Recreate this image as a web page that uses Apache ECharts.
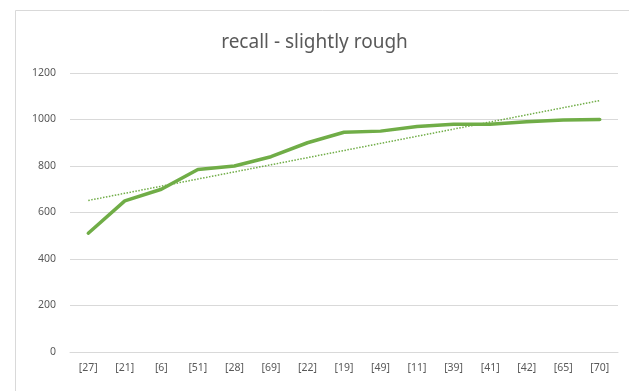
<!DOCTYPE html>
<html>
<head>
<meta charset="utf-8">
<script src="https://cdn.jsdelivr.net/npm/echarts@6/dist/echarts.min.js"></script>
<style>
  html, body { margin: 0; padding: 0; background: #fff; }
  #chart { width: 629px; height: 391px; }
</style>
</head>
<body>
<div id="chart"></div>
<script>
// Recall per sample id, ordered ascending
const categories = ['[27]', '[21]', '[6]', '[51]', '[28]', '[69]', '[22]', '[19]', '[49]', '[11]', '[39]', '[41]', '[42]', '[65]', '[70]'];
const recall = [511, 650, 700, 785, 800, 840, 900, 945, 950, 970, 980, 980, 990, 998, 1000];
const yTicks = [0, 200, 400, 600, 800, 1000, 1200];

// Least-squares linear trend over the category index
function linearTrend(values) {
  const n = values.length;
  let sx = 0, sy = 0, sxx = 0, sxy = 0;
  values.forEach((v, i) => { sx += i; sy += v; sxx += i * i; sxy += i * v; });
  const slope = (n * sxy - sx * sy) / (n * sxx - sx * sx);
  const icpt = (sy - slope * sx) / n;
  return values.map((_, i) => +(icpt + slope * i).toFixed(1));
}
const trend = linearTrend(recall);

const green = '#70ad47';
const textGrey = '#595959';
const font = 'Noto Sans';

const chart = echarts.init(document.getElementById('chart'));
chart.setOption({
  animation: false,
  backgroundColor: '#fff',
  graphic: [{
    type: 'rect',
    shape: { x: 15.5, y: 10.5, width: 640, height: 400 },
    style: { fill: 'none', stroke: '#d9d9d9', lineWidth: 1 },
    silent: true
  }],
  title: {
    text: 'recall - slightly rough',
    left: 'center',
    top: 28,
    textStyle: { color: textGrey, fontFamily: font, fontSize: 19, fontWeight: 'normal' }
  },
  grid: { left: 70, right: 11, top: 73, bottom: 39, containLabel: false },
  xAxis: {
    type: 'category',
    data: categories,
    boundaryGap: true,
    axisLine: { show: true, lineStyle: { color: '#d9d9d9', width: 1 } },
    axisTick: { show: false },
    axisLabel: { color: textGrey, fontFamily: font, fontSize: 10.5, margin: 11, interval: 0 }
  },
  yAxis: {
    type: 'value',
    min: yTicks[0],
    max: yTicks[yTicks.length - 1],
    interval: 200,
    axisLine: { show: false },
    axisTick: { show: false },
    axisLabel: { color: textGrey, fontFamily: font, fontSize: 10.5, margin: 14, formatter: v => String(v) },
    splitLine: { lineStyle: { color: '#d9d9d9', width: 1 } }
  },
  series: [
    {
      type: 'line',
      data: recall,
      symbol: 'none',
      lineStyle: { color: green, width: 3.5, cap: 'round', join: 'round' },
      z: 3
    },
    {
      type: 'line',
      data: trend,
      symbol: 'none',
      lineStyle: { color: green, width: 1.5, type: [1.5, 1.5] },
      z: 2
    }
  ]
});
</script>
</body>
</html>
